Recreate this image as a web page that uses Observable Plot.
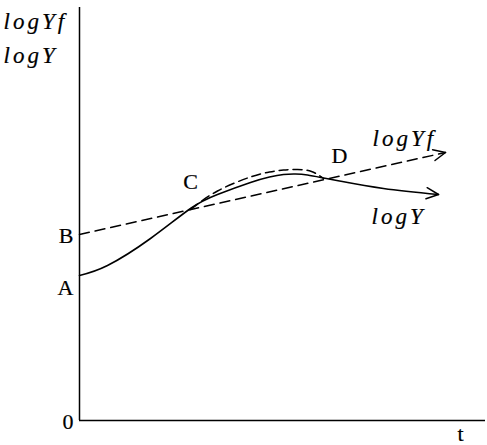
<!DOCTYPE html>
<html><head><meta charset="utf-8">
<script src="https://cdn.jsdelivr.net/npm/d3@7"></script>
<script src="https://cdn.jsdelivr.net/npm/@observablehq/plot@0.6"></script>
<style>body{margin:0;background:#fff}
svg text{font-family:"Liberation Serif","Times New Roman",Times,serif !important;}
</style>
</head><body><div id="chart"></div>
<script>
// logY (solid curve)
const tY   = [0, 28, 71, 111, 138, 171, 190, 204, 216, 228, 244, 260, 304, 359];
const logY = [145, 155, 182, 212, 226, 238, 243.5, 246, 246.5, 245.5, 242.5, 239.5, 232, 226];
// logYf short-run (dashed curve between C and D)
const tYfc   = [111, 138, 171, 190, 204, 218, 232, 244];
const logYfc = [211, 229.5, 243.5, 248.5, 250.5, 251, 249, 242];
// logYf trend (dashed straight line from B)
const tYf   = [0, 366];
const logYf = [186, 268];
// point labels
const ptLabels = ["C", "D"];
const ptT = [111, 260];
const ptV = [239, 265];
const axLabels = ["B", "A", "0"];
const axV = [185, 133, -1];
const curveNames = ["logYf", "logY"];
const curveT = [293, 292];
const curveV = [282, 204];
const yTitle = ["logYf", "logY"];
const yTitleV = [399, 365];
const xTitle = "t";

const solid = tY.map((t, i) => ({t, v: logY[i]}));
const dashC = tYfc.map((t, i) => ({t, v: logYfc[i]}));
const dashL = tYf.map((t, i) => ({t, v: logYf[i]}));

function head(arrT, arrV) {
  const n = arrT.length;
  return {t: arrT[n-1], v: arrV[n-1],
    rot: Math.atan2(arrT[n-1]-arrT[n-2], arrV[n-1]-arrV[n-2]) * 180 / Math.PI};
}
const heads = [head(tY, logY), head(tYf, logYf)];
const chevron = {draw(ctx, l, r) { ctx.moveTo(-r, l); ctx.lineTo(0, 0); ctx.lineTo(r, l); }};

const serif = "Liberation Serif";
const txt = {fontFamily: serif, fill: "#000", stroke: "#000", strokeWidth: 0.2};
const chart = Plot.plot({
  width: 487, height: 445,
  marginLeft: 79, marginRight: 2, marginTop: 7, marginBottom: 25,
  x: {domain: [0, 406], axis: null},
  y: {domain: [0, 413], axis: null},
  style: {background: "#fff"},
  marks: [
    Plot.ruleX([0], {y1: 0, y2: 413, stroke: "#000", strokeWidth: 1.5}),
    Plot.ruleY([0], {x1: 0, x2: 406, stroke: "#000", strokeWidth: 1.5}),
    Plot.line(solid, {x: "t", y: "v", curve: "natural", stroke: "#000", strokeWidth: 1.6}),
    Plot.line(dashC, {x: "t", y: "v", curve: "natural", stroke: "#000", strokeWidth: 1.5, strokeDasharray: "9,5"}),
    Plot.line(dashL, {x: "t", y: "v", stroke: "#000", strokeWidth: 1.5, strokeDasharray: "10,6"}),
    Plot.vector(heads, {x: "t", y: "v", rotate: "rot", length: 12, r: 5.5, anchor: "start",
      shape: chevron, stroke: "#000", strokeWidth: 1.5}),
    Plot.text(ptLabels, {x: (d, i) => ptT[i], y: (d, i) => ptV[i], text: d => d, fontSize: 22, ...txt}),
    Plot.text(axLabels, {x: 0, y: (d, i) => axV[i], text: d => d, dx: -6, textAnchor: "end", fontSize: 22, ...txt}),
    Plot.text(curveNames, {x: (d, i) => curveT[i], y: (d, i) => curveV[i], text: d => d,
      textAnchor: "start", fontStyle: "italic", fontSize: 23, ...txt}),
    Plot.text(yTitle, {x: 0, y: (d, i) => yTitleV[i], text: d => d, dx: -76,
      textAnchor: "start", fontStyle: "italic", fontSize: 23, ...txt}),
    Plot.text([xTitle], {x: 381, y: -13, text: d => d, fontSize: 22, ...txt})
  ]
});
chart.querySelectorAll("g[font-style=italic] text").forEach(t => { t.style.letterSpacing = "3px"; });
document.getElementById("chart").appendChild(chart);
</script></body></html>
